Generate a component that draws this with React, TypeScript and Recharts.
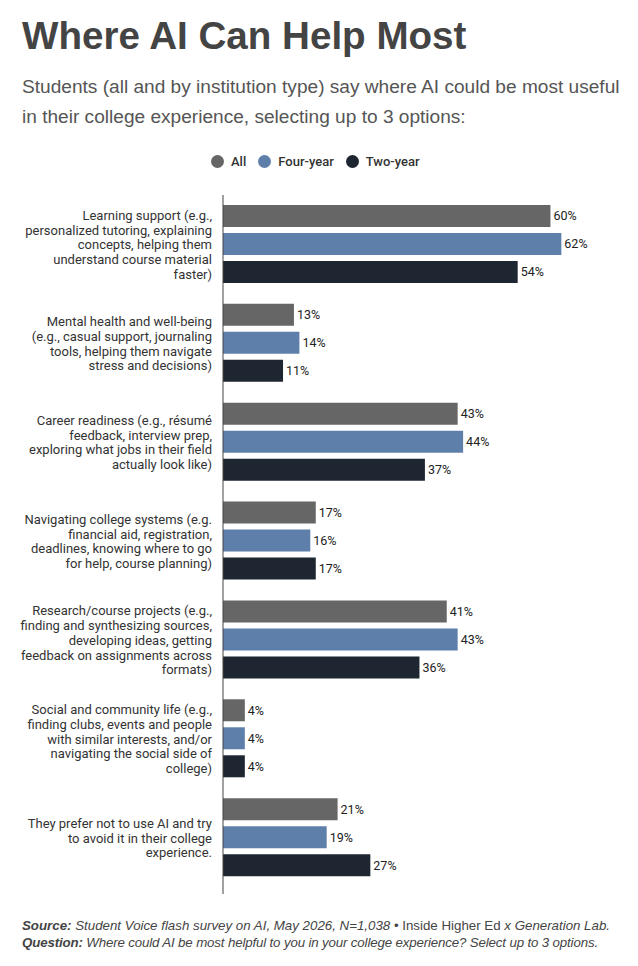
import React from "react";
import { BarChart, Bar, XAxis, YAxis, LabelList } from "recharts";

const categories = [
  "Learning support (e.g.,\npersonalized tutoring, explaining\nconcepts, helping them\nunderstand course material\nfaster)",
  "Mental health and well-being\n(e.g., casual support, journaling\ntools, helping them navigate\nstress and decisions)",
  "Career readiness (e.g., résumé\nfeedback, interview prep,\nexploring what jobs in their field\nactually look like)",
  "Navigating college systems (e.g.\nfinancial aid, registration,\ndeadlines, knowing where to go\nfor help, course planning)",
  "Research/course projects (e.g.,\nfinding and synthesizing sources,\ndeveloping ideas, getting\nfeedback on assignments across\nformats)",
  "Social and community life (e.g.,\nfinding clubs, events and people\nwith similar interests, and/or\nnavigating the social side of\ncollege)",
  "They prefer not to use AI and try\nto avoid it in their college\nexperience.",
];
const allValues = [60, 13, 43, 17, 41, 4, 21];
const fourYear = [62, 14, 44, 16, 43, 4, 19];
const twoYear = [54, 11, 37, 17, 36, 4, 27];

const COLORS = { all: "#666666", four: "#5f7fab", two: "#1e2631", text: "#333333" };

const data = categories.map((c, i) => ({
  cat: c,
  all: allValues[i],
  four: fourYear[i],
  two: twoYear[i],
}));

const LabelTick = (props: any) => {
  const { x, y, payload } = props;
  const lines: string[] = String(payload.value).split("\n");
  const lh = 14.7;
  const start = y - ((lines.length - 1) * lh) / 2;
  return (
    <text
      x={x - 3}
      y={start}
      textAnchor="end"
      dominantBaseline="central"
      fontFamily="Roboto"
      fontSize={13}
      fill={COLORS.text}
    >
      {lines.map((l, i) => (
        <tspan key={i} x={x - 3} y={start + i * lh}>
          {l}
        </tspan>
      ))}
    </text>
  );
};

const fmt = (v: any) => `${v}%`;
const labelStyle = { fontFamily: "Roboto", fontSize: 12.5, fill: "#222" };

const legendItems = [
  { name: "All", color: COLORS.all },
  { name: "Four-year", color: COLORS.four },
  { name: "Two-year", color: COLORS.two },
];

export default function App() {
  return (
    <div
      style={{
        position: "absolute",
        left: 0,
        top: 0,
        width: 638,
        height: 966,
        background: "#fff",
        fontFamily: "'Liberation Sans', Arial, sans-serif",
      }}
    >
      <div
        style={{
          position: "absolute",
          left: 22,
          top: 12,
          fontSize: 38.6,
          fontWeight: 700,
          color: "#444",
          lineHeight: "47px",
        }}
      >
        Where AI Can Help Most
      </div>
      <div
        style={{
          position: "absolute",
          left: 22,
          top: 72,
          width: 616,
          fontSize: 19.1,
          color: "#555",
          lineHeight: "30px",
          whiteSpace: "nowrap",
        }}
      >
        Students (all and by institution type) say where AI could be most useful
        <br />
        in their college experience, selecting up to 3 options:
      </div>
      <div
        style={{
          position: "absolute",
          left: 211,
          top: 154,
          display: "flex",
          alignItems: "center",
          fontFamily: "Roboto",
          fontSize: 13,
          fontWeight: 500,
          color: COLORS.text,
        }}
      >
        {legendItems.map((it) => (
          <div key={it.name} style={{ display: "flex", alignItems: "center", marginRight: 12 }}>
            <span
              style={{
                width: 13,
                height: 13,
                borderRadius: "50%",
                background: it.color,
                display: "inline-block",
                marginRight: 7,
              }}
            />
            {it.name}
          </div>
        ))}
      </div>
      <div style={{ position: "absolute", left: 0, top: 195 }}>
        <BarChart
          width={638}
          height={699}
          data={data}
          layout="vertical"
          margin={{ top: 0, right: 33, bottom: 0, left: 0 }}
          barSize={22}
          barGap={6}
        >
          <XAxis type="number" domain={[0, 70]} hide />
          <YAxis
            type="category"
            dataKey="cat"
            width={223}
            tickLine={false}
            axisLine={{ stroke: "#444" }}
            tick={<LabelTick />}
            interval={0}
            padding={{ top: 0, bottom: 7 }}
          />
          <Bar dataKey="all" fill={COLORS.all} isAnimationActive={false}>
            <LabelList dataKey="all" position="right" offset={3} formatter={fmt} style={labelStyle} />
          </Bar>
          <Bar dataKey="four" fill={COLORS.four} isAnimationActive={false}>
            <LabelList dataKey="four" position="right" offset={3} formatter={fmt} style={labelStyle} />
          </Bar>
          <Bar dataKey="two" fill={COLORS.two} isAnimationActive={false}>
            <LabelList dataKey="two" position="right" offset={3} formatter={fmt} style={labelStyle} />
          </Bar>
        </BarChart>
      </div>
      <div
        style={{
          position: "absolute",
          left: 22,
          top: 917,
          fontSize: 13.3,
          color: "#444",
          lineHeight: "17px",
          whiteSpace: "nowrap",
        }}
      >
        <b>
          <i>Source:</i>
        </b>{" "}
        <i>Student Voice flash survey on AI, May 2026, N=1,038</i> • Inside Higher Ed{" "}
        <i>x Generation Lab.</i>
        <br />
        <span style={{ letterSpacing: -0.15 }}>
          <b>
            <i>Question:</i>
          </b>{" "}
          <i>Where could AI be most helpful to you in your college experience? Select up to 3 options.</i>
        </span>
      </div>
    </div>
  );
}
